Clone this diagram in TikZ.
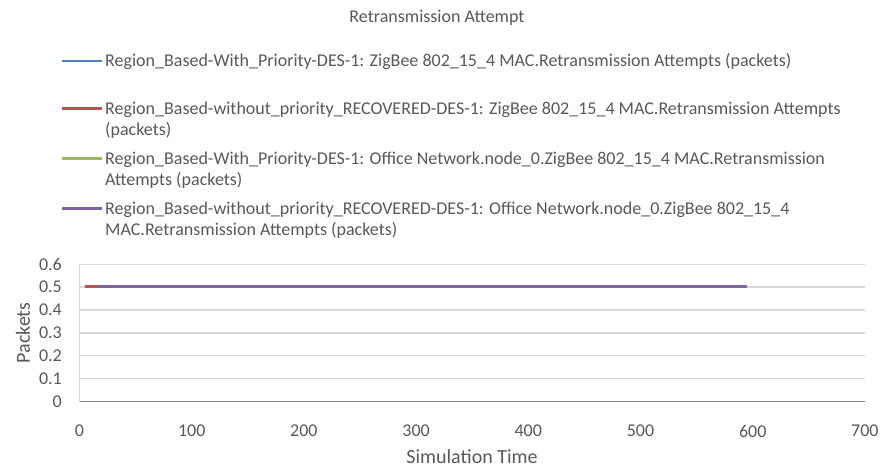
\documentclass[tikz,border=0pt]{standalone}
\usepackage{fontspec}
\setmainfont{Carlito}
\definecolor{txt}{HTML}{595959}
\definecolor{grid}{HTML}{D9D9D9}
\definecolor{axisc}{HTML}{868686}
\definecolor{sblue}{HTML}{4F81BD}
\definecolor{sred}{HTML}{C0504D}
\definecolor{sgreen}{HTML}{9BBB59}
\definecolor{spurple}{HTML}{8064A2}
\begin{document}
\begin{tikzpicture}[x=1pt,y=-1pt,
  lbl/.style={text=txt,font=\fontsize{18}{21.5}\selectfont,inner sep=0pt},
  legtext/.style={lbl,anchor=base west,align=left},
  tick/.style={text=txt,font=\fontsize{18}{20}\selectfont,inner sep=0pt},
  atitle/.style={text=txt,font=\fontsize{20}{22}\selectfont,inner sep=0pt},
  gridline/.style={draw=grid,line width=1.2pt},
  legline/.style={line width=2.4pt},
  series/.style={line width=2.6pt}]
\useasboundingbox[fill=white] (0,0) rectangle (883,469);
% title
\node[lbl] (title) at (437,18) {Retransmission Attempt};
% legend
\coordinate (l1a) at (62,61); \coordinate (l1b) at (101.5,61);
\coordinate (l2a) at (62,108.5); \coordinate (l2b) at (101.5,108.5);
\coordinate (l3a) at (62,158.3); \coordinate (l3b) at (101.5,158.3);
\coordinate (l4a) at (62,208.3); \coordinate (l4b) at (101.5,208.3);
\draw[legline,sblue] (l1a) -- (l1b);
\draw[legline,sred] (l2a) -- (l2b);
\draw[legline,sgreen] (l3a) -- (l3b);
\draw[legline,spurple] (l4a) -- (l4b);
\node[legtext] (t1) at (105,66.5) {Region\_Based-With\_Priority-DES-1: ZigBee 802\_15\_4 MAC.Retransmission Attempts (packets)};
\node[legtext] (t2) at (105,135.5) {Region\_Based-without\_priority\_RECOVERED-DES-1: ZigBee 802\_15\_4 MAC.Retransmission Attempts\\(packets)};
\node[legtext] (t3) at (105,185.5) {Region\_Based-With\_Priority-DES-1: Office Network.node\_0.ZigBee 802\_15\_4 MAC.Retransmission\\Attempts (packets)};
\node[legtext] (t4) at (105,235.5) {Region\_Based-without\_priority\_RECOVERED-DES-1: Office Network.node\_0.ZigBee 802\_15\_4\\MAC.Retransmission Attempts (packets)};
% plot area
\foreach \i in {1,...,6} {
  \draw[gridline] (79.5,{401.7-22.93*\i}) -- (865,{401.7-22.93*\i});
}
\draw[gridline] (79.5,264.1) -- (79.5,401.7);
\draw[draw=axisc,line width=1.2pt] (79.5,401.7) coordinate (o) -- (865,401.7) coordinate (xe);
% y ticks
\foreach \v/\t in {0/0,1/0.1,2/0.2,3/0.3,4/0.4,5/0.5,6/0.6} {
  \node[tick,anchor=east] (y\v) at (62,{401.7-22.93*\v}) {\t};
}
% x ticks
\foreach \v/\t in {0/0,1/100,2/200,3/300,4/400,5/500,6/600,7/700} {
  \node[tick] (x\v) at ({79.5+112.2*\v},431) {\t};
}
% axis titles
\node[atitle,rotate=90] (ytitle) at (23,333) {Packets};
\node[atitle] (xtitle) at (472,457) {Simulation Time};
% series
\coordinate (sa) at (98,286.7); \coordinate (sr) at (85,286.7); \coordinate (se) at (747,286.7);
\draw[series,sblue] (sa) -- (se);
\draw[series,sred] (sr) -- (se);
\draw[series,sgreen] (sa) -- (se);
\draw[series,spurple] (sa) -- (se);
\end{tikzpicture}
\end{document}
